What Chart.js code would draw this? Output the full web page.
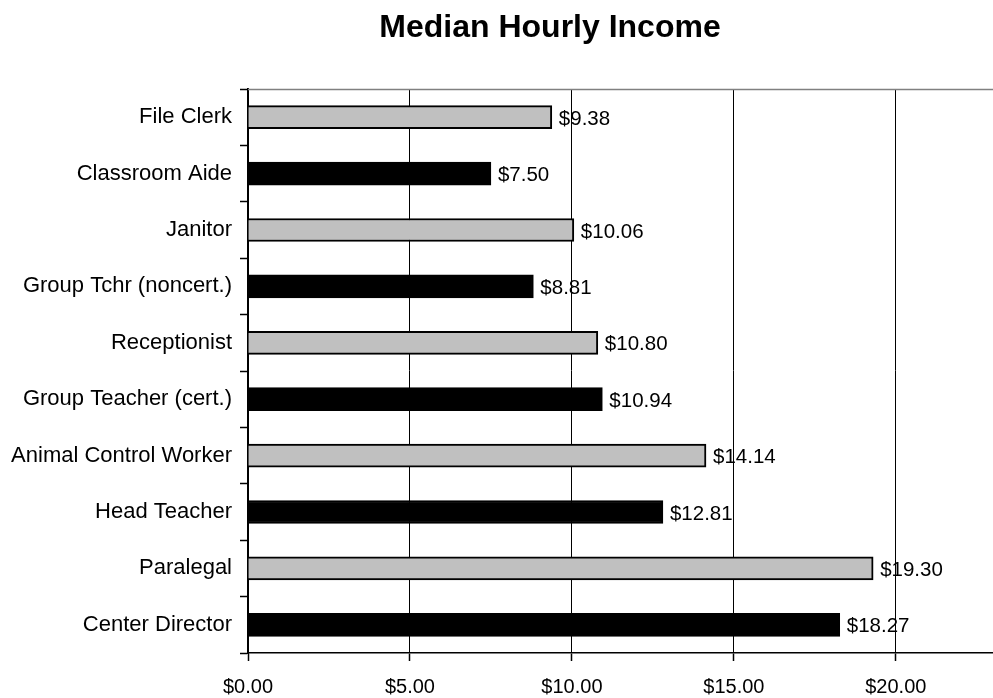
<!DOCTYPE html>
<html>
<head>
<meta charset="utf-8">
<script src="https://cdn.jsdelivr.net/npm/chart.js@4/dist/chart.umd.min.js"></script>
<style>
html,body{margin:0;padding:0;background:#fff;}
#wrap{width:993px;height:698px;position:relative;}
</style>
</head>
<body>
<div id="wrap"><canvas id="c" width="993" height="698"></canvas></div>
<script>
const chartTitle = 'Median Hourly Income';
const categories = ['File Clerk','Classroom Aide','Janitor','Group Tchr (noncert.)','Receptionist','Group Teacher (cert.)','Animal Control Worker','Head Teacher','Paralegal','Center Director'];
const incomes = [9.38, 7.50, 10.06, 8.81, 10.80, 10.94, 14.14, 12.81, 19.30, 18.27];
const xTickValues = [0, 5, 10, 15, 20];

const FONT = '"Liberation Sans", Arial, sans-serif';
const fmt = v => '$' + v.toFixed(2);

const titlePlugin = {
  id: 'customTitle',
  afterDraw(chart) {
    const ctx = chart.ctx;
    ctx.save();
    ctx.font = 'bold 32px ' + FONT;
    ctx.fillStyle = '#000';
    ctx.textAlign = 'center';
    ctx.textBaseline = 'alphabetic';
    ctx.fillText(chartTitle, 550, 37);
    ctx.restore();
  }
};

const frame = {
  id: 'frame',
  beforeDatasetsDraw(chart) {
    const a = chart.chartArea, ctx = chart.ctx;
    ctx.save();
    ctx.strokeStyle = '#808080';
    ctx.lineWidth = 1.5;
    ctx.beginPath();
    ctx.moveTo(a.left, a.top + 0.5);
    ctx.lineTo(a.right, a.top + 0.5);
    ctx.stroke();
    ctx.restore();
  }
};

const valueLabels = {
  id: 'valueLabels',
  afterDatasetsDraw(chart) {
    const ctx = chart.ctx;
    const meta = chart.getDatasetMeta(0);
    ctx.save();
    ctx.font = '20.5px ' + FONT;
    ctx.fillStyle = '#000';
    ctx.textAlign = 'left';
    ctx.textBaseline = 'middle';
    meta.data.forEach((bar, i) => {
      ctx.fillText(fmt(incomes[i]), bar.x + 7, bar.y + 2);
    });
    ctx.restore();
  }
};

new Chart(document.getElementById('c'), {
  type: 'bar',
  data: {
    labels: categories,
    datasets: [{
      data: incomes,
      backgroundColor: ctx => ctx.dataIndex % 2 === 0 ? '#C0C0C0' : '#000000',
      borderColor: '#000000',
      borderWidth: 2,
      borderSkipped: 'left',
      barThickness: 23
    }]
  },
  options: {
    indexAxis: 'y',
    responsive: false,
    animation: false,
    devicePixelRatio: 1,
    layout: { padding: { top: 89, right: 0, bottom: 0, left: 0 } },
    plugins: { legend: { display: false }, title: { display: false }, tooltip: { enabled: false } },
    scales: {
      x: {
        type: 'linear',
        min: 0,
        max: 23,
        afterBuildTicks: scale => { scale.ticks = xTickValues.map(v => ({ value: v })); },
        afterFit: scale => { scale.height = 45; },
        grid: { color: '#000', lineWidth: 1, drawTicks: true, tickLength: 8, tickColor: '#000', tickWidth: 1.5 },
        border: { display: true, color: '#000', width: 1.5 },
        ticks: {
          color: '#000',
          font: { family: FONT, size: 20 },
          padding: 14,
          maxRotation: 0,
          callback: v => fmt(v)
        }
      },
      y: {
        type: 'category',
        offset: true,
        afterFit: scale => { scale.width = 248; },
        grid: { offset: true, drawOnChartArea: false, drawTicks: true, tickLength: 8, tickColor: '#000', tickWidth: 1.5 },
        border: { display: true, color: '#000', width: 2 },
        ticks: {
          color: '#000',
          font: { family: FONT, size: 22 },
          padding: 8,
          autoSkip: false
        }
      }
    }
  },
  plugins: [titlePlugin, frame, valueLabels]
});
</script>
</body>
</html>
